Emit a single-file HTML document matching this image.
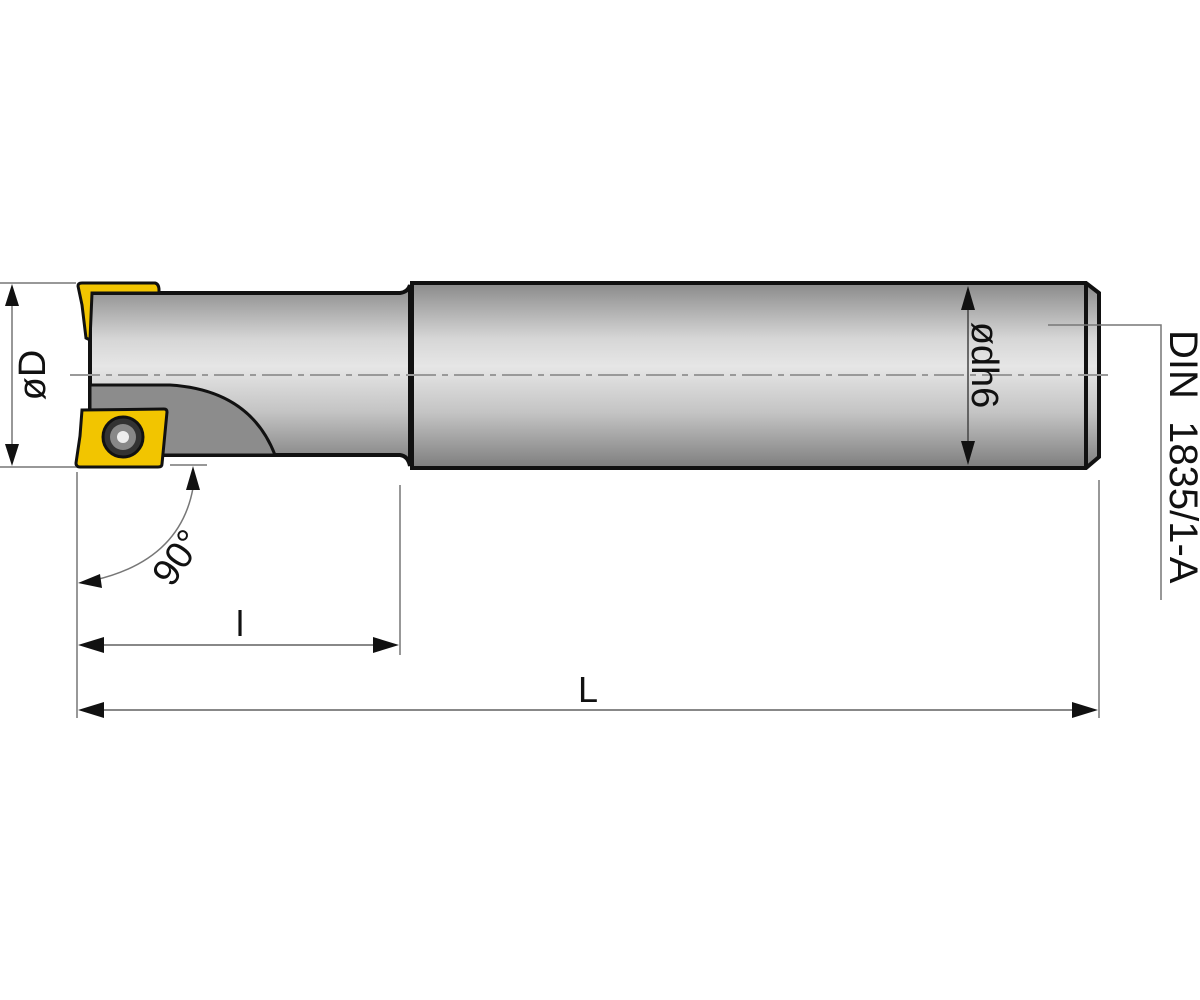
<!DOCTYPE html>
<html><head><meta charset="utf-8"><style>
html,body{margin:0;padding:0;background:#fff;}
svg{display:block;}
text{font-family:"Liberation Sans",Arial,sans-serif;fill:#111;}
</style></head><body>
<svg width="1200" height="1000" viewBox="0 0 1200 1000" xmlns="http://www.w3.org/2000/svg" font-family="Liberation Sans, Arial, sans-serif">
<defs>
<linearGradient id="g" x1="0" y1="0" x2="0" y2="1">
<stop offset="0" stop-color="#8a8a8a"/>
<stop offset="0.3" stop-color="#d6d6d6"/>
<stop offset="0.45" stop-color="#e6e6e6"/>
<stop offset="0.7" stop-color="#c4c4c4"/>
<stop offset="1" stop-color="#7e7e7e"/>
</linearGradient>
</defs>
<!-- shank -->
<path d="M412,283 L1086,283 L1099,293 L1099,457 L1086,468 L412,468 Z" fill="url(#g)" stroke="#111" stroke-width="4"/>
<line x1="1086" y1="283" x2="1086" y2="468" stroke="#111" stroke-width="4"/>
<!-- head body -->
<path d="M90,293 L400,293 Q408,292 410,285 L410,466 Q408,456 400,455 L90,455 Z" fill="url(#g)" stroke="#111" stroke-width="4"/>
<!-- flute -->
<path d="M90,385 L170,385 Q250,390 275,455 L90,455 Z" fill="#8c8c8c" stroke="#111" stroke-width="3"/>
<!-- top insert -->
<path d="M78,286 Q78,283 82,283 L155,283 Q159,284 159,290 L159,293 L92,293 L90,340 L86,338 L82,305 Z" fill="#f2c500" stroke="#111" stroke-width="3"/>
<!-- bottom insert -->
<path d="M82,410 L164,409 Q167,409 167,412 L162,464 Q162,467 158,467 L80,467 Q76,467 76,463 L80,436 Z" fill="#f2c500" stroke="#111" stroke-width="3"/>
<circle cx="123" cy="437" r="20" fill="#333" stroke="#111" stroke-width="3"/>
<circle cx="123" cy="437" r="13" fill="#888"/>
<circle cx="123" cy="437" r="6" fill="#eee"/>
<!-- centerline -->
<line x1="70" y1="375" x2="1112" y2="375" stroke="#999" stroke-width="2" stroke-dasharray="30,6,6,6"/>
<!-- øD -->
<line x1="0" y1="283" x2="76" y2="283" stroke="#777" stroke-width="1.5"/>
<line x1="0" y1="467" x2="76" y2="467" stroke="#777" stroke-width="1.5"/>
<line x1="12" y1="300" x2="12" y2="450" stroke="#777" stroke-width="1.5"/>
<path d="M12,284 L5,306 L19,306 Z M12,466 L5,444 L19,444 Z" fill="#111"/>
<text transform="translate(45,375) rotate(-90)" font-size="38" text-anchor="middle">øD</text>
<!-- 90° -->
<line x1="170" y1="465" x2="207" y2="465" stroke="#777" stroke-width="1.5"/>
<path d="M193,488 Q180,560 95,580" fill="none" stroke="#777" stroke-width="1.5"/>
<path d="M193,466 L186,490 L200,490 Z M78,583 L100,574 L102,588 Z" fill="#111"/>
<text transform="translate(188,565) rotate(-55)" font-size="38" text-anchor="middle">90°</text>
<!-- extension lines -->
<line x1="77" y1="472" x2="77" y2="718" stroke="#777" stroke-width="1.5"/>
<line x1="400" y1="485" x2="400" y2="655" stroke="#777" stroke-width="1.5"/>
<line x1="1099" y1="480" x2="1099" y2="718" stroke="#777" stroke-width="1.5"/>
<!-- l -->
<line x1="95" y1="645" x2="382" y2="645" stroke="#888" stroke-width="2"/>
<path d="M78,645 L104,637 L104,653 Z M399,645 L373,637 L373,653 Z" fill="#111"/>
<text x="240" y="636" font-size="36" text-anchor="middle">l</text>
<!-- L -->
<line x1="95" y1="710" x2="1082" y2="710" stroke="#888" stroke-width="2"/>
<path d="M78,710 L104,702 L104,718 Z M1098,710 L1072,702 L1072,718 Z" fill="#111"/>
<text x="588" y="702" font-size="36" text-anchor="middle">L</text>
<!-- ødh6 -->
<line x1="968" y1="300" x2="968" y2="450" stroke="#444" stroke-width="1.5"/>
<path d="M968,286 L961,310 L975,310 Z M968,465 L961,441 L975,441 Z" fill="#111"/>
<text transform="translate(972,365) rotate(90)" font-size="38" text-anchor="middle">ødh6</text>
<!-- DIN leader -->
<polyline points="1048,325 1161,325 1161,600" fill="none" stroke="#777" stroke-width="1.5"/>
<text transform="translate(1170,330) rotate(90)" font-size="40" xml:space="preserve">DIN  1835/1-A</text>
</svg>
</body></html>
